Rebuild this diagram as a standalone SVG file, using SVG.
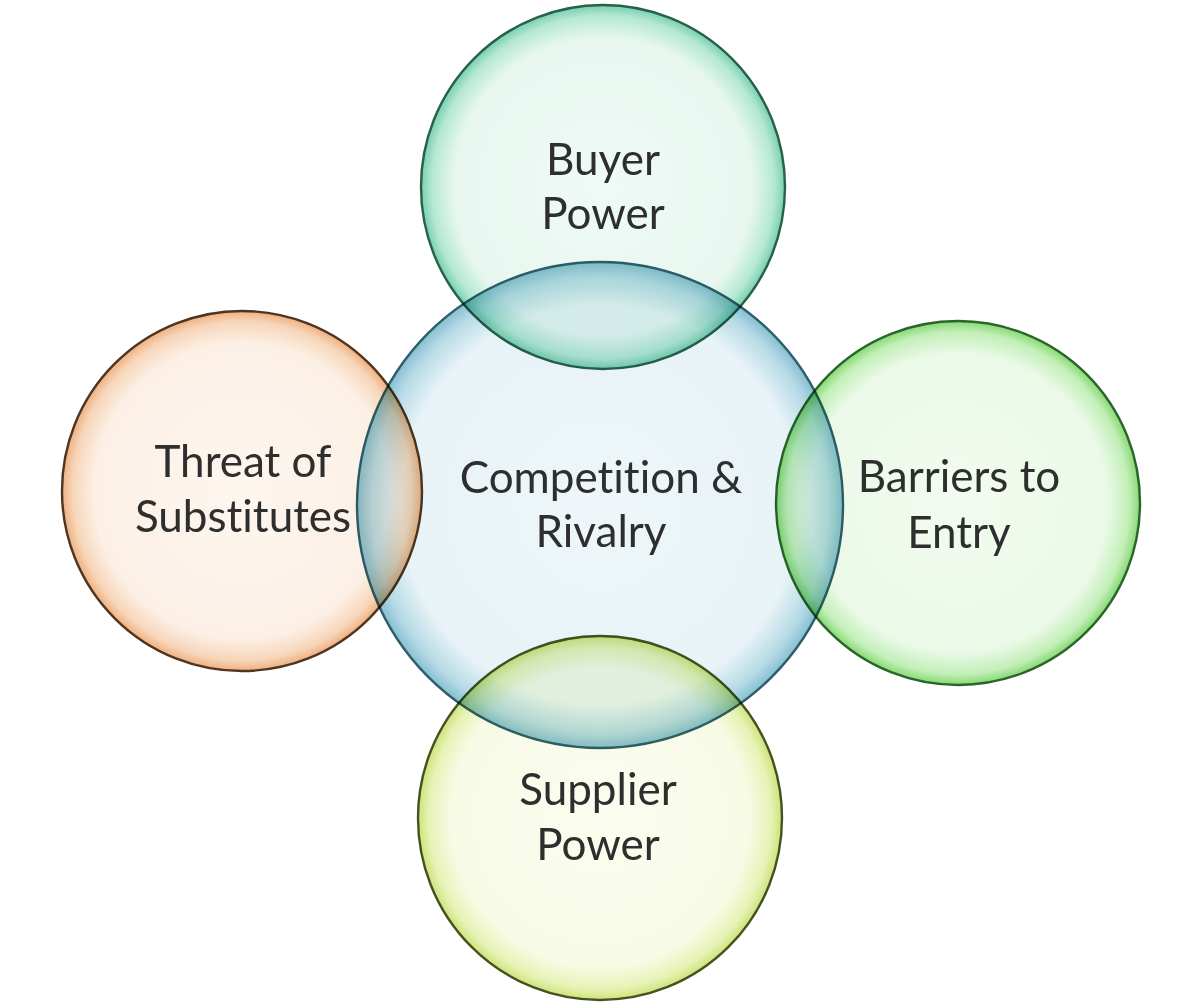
<svg xmlns="http://www.w3.org/2000/svg" width="1200" height="1008" viewBox="0 0 1200 1008">
<defs>
<radialGradient id="gBlue" cx="50%" cy="50%" r="50%">
<stop offset="0" stop-color="#eef6f9"/><stop offset="0.82" stop-color="#e8f3f7"/><stop offset="0.94" stop-color="#b6dae6"/><stop offset="1" stop-color="#86bfd2"/>
</radialGradient>
<radialGradient id="gTeal" cx="50%" cy="50%" r="50%">
<stop offset="0" stop-color="#f0faf6"/><stop offset="0.82" stop-color="#e7f7f0"/><stop offset="0.94" stop-color="#b5e8d4"/><stop offset="1" stop-color="#78cfae"/>
</radialGradient>
<radialGradient id="gOrange" cx="50%" cy="50%" r="50%">
<stop offset="0" stop-color="#fdf6ef"/><stop offset="0.82" stop-color="#fcf0e6"/><stop offset="0.94" stop-color="#f7d6ba"/><stop offset="1" stop-color="#eeb080"/>
</radialGradient>
<radialGradient id="gGreen" cx="50%" cy="50%" r="50%">
<stop offset="0" stop-color="#f2fbf0"/><stop offset="0.82" stop-color="#ebf9e8"/><stop offset="0.94" stop-color="#c2efb7"/><stop offset="1" stop-color="#86d873"/>
</radialGradient>
<radialGradient id="gYellow" cx="50%" cy="50%" r="50%">
<stop offset="0" stop-color="#fbfdf0"/><stop offset="0.82" stop-color="#f7fbe5"/><stop offset="0.94" stop-color="#e7f2b5"/><stop offset="1" stop-color="#cde37a"/>
</radialGradient>
<style>
.c{stroke-width:2.4}
.s{mix-blend-mode:multiply}
.t{font-family:Lato,"Open Sans","Liberation Sans",sans-serif;font-size:44px;fill:#2e2e2e;text-anchor:middle;font-variant-ligatures:none;font-feature-settings:"liga" 0}
</style>
</defs>
<rect width="1200" height="1008" fill="#ffffff"/>
<g id="connectors"></g>
<g id="node-competition">
<circle class="c" cx="600" cy="505" r="243" fill="url(#gBlue)" stroke="#2e5e6c"/>
<text class="t" x="601" y="493">Competition &amp;</text>
<text class="t" x="601" y="547">Rivalry</text>
</g>
<g id="node-buyer">
<circle class="c s" cx="603" cy="187" r="182" fill="url(#gTeal)" stroke="#27604c"/>
<text class="t" x="603" y="175">Buyer</text>
<text class="t" x="603" y="229">Power</text>
</g>
<g id="node-threat">
<circle class="c s" cx="242" cy="491" r="180" fill="url(#gOrange)" stroke="#4f3520"/>
<text class="t" x="243" y="477">Threat of</text>
<text class="t" x="243" y="532">Substitutes</text>
</g>
<g id="node-barriers">
<circle class="c s" cx="958" cy="503" r="182" fill="url(#gGreen)" stroke="#2a652a"/>
<text class="t" x="959" y="492">Barriers to</text>
<text class="t" x="959" y="548">Entry</text>
</g>
<g id="node-supplier">
<circle class="c s" cx="600" cy="818" r="182" fill="url(#gYellow)" stroke="#45521e"/>
<text class="t" x="598" y="805">Supplier</text>
<text class="t" x="598" y="860">Power</text>
</g>
</svg>
